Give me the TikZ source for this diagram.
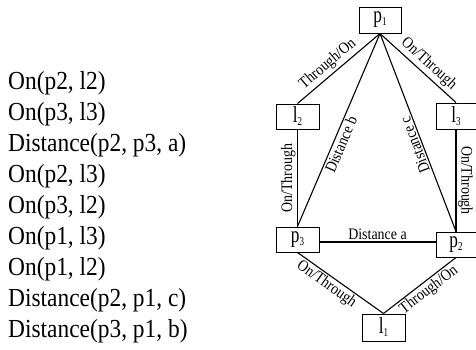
\documentclass[tikz,border=0pt]{standalone}
\usepackage{fontspec}
\setmainfont{Liberation Serif}
\newfontfamily\factfont[FakeStretch=0.9]{Liberation Serif}
\newfontfamily\edgefont[FakeStretch=0.87]{Liberation Serif}
\newfontfamily\boxfont[FakeStretch=0.75]{Liberation Serif}
% element name with a lowered index
\newcommand{\elem}[2]{#1\raisebox{-3pt}{\fontsize{12}{12}\selectfont #2}}
\begin{document}
\begin{tikzpicture}[x=1pt,y=-1pt,
  box/.style={draw, line width=1pt, minimum width=42pt, minimum height=25pt,
    inner sep=0pt, font=\boxfont\fontsize{23}{23}\selectfont},
  link/.style={line width=1.1pt},
  lbl/.style={font=\edgefont\fontsize{16}{16}\selectfont, inner sep=1.5pt}]
\useasboundingbox (0,0) rectangle (476,349);

% list of relations
\node[anchor=north west, align=left, inner sep=0pt,
      font=\factfont\fontsize{26}{31}\selectfont] (facts) at (8,71)
  {On(p2, l2)\\ On(p3, l3)\\ Distance(p2, p3, a)\\ On(p2, l3)\\ On(p3, l2)\\
   On(p1, l3)\\ On(p1, l2)\\ Distance(p2, p1, c)\\ Distance(p3, p1, b)};

% points and lines
\node[box, minimum height=26pt] (p1) at (380,20)    {\elem{p}{1}};
\node[box, minimum width=43pt] (l2) at (297.5,116.5) {\elem{l}{2}};
\node[box, minimum width=40pt, minimum height=26pt] (l3) at (456,116) {\elem{l}{3}};
\node[box, minimum width=43pt] (p3) at (297.5,239.5) {\elem{p}{3}};
\node[box, minimum width=40pt] (p2) at (456,244.5)   {\elem{p}{2}};
\node[box, minimum width=43pt, minimum height=27pt] (l1) at (383.5,327.5) {\elem{l}{1}};

% relations between them
\draw[link] (l2.north) -- node[lbl, sloped, pos=.45, above=1pt] {Through/On} (p1.south);
\draw[link] (p1.south) -- node[lbl, sloped, pos=.55, above=1pt] {On/Through} (l3.north);
\draw[link] (p3.north) -- node[lbl, sloped, pos=.44, below] {Distance b} (p1.south);
\draw[link] (p2.north) -- node[lbl, rotate=111, pos=.45, above] {Distance c} (p1.south);
\draw[link] (p3.north) -- node[lbl, sloped, pos=.5, above] {On/Through} (l2.south);
\draw[link] (l3.south) -- node[lbl, sloped, pos=.5, above] {On/Through} (p2.north);
\draw[link] ([yshift=-2.5pt]p3.east) -- node[lbl, pos=.5, above] {Distance a} ([yshift=2.5pt]p2.west);
\draw[link] (p3.south) -- node[lbl, sloped, pos=.4, below] {On/Through} (l1.north);
\draw[link] (l1.north) -- node[lbl, sloped, pos=.55, below] {Through/On} (p2.south);
\end{tikzpicture}
\end{document}
